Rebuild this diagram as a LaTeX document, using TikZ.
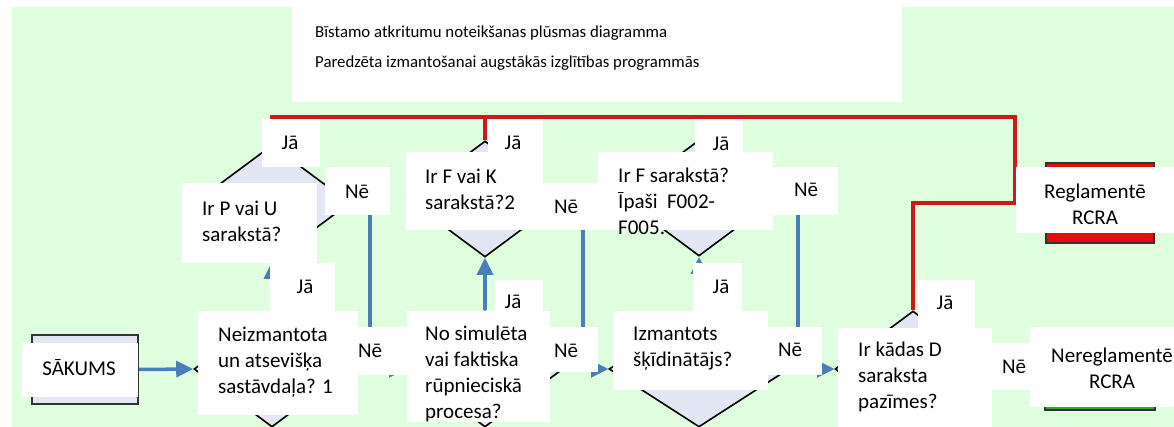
\documentclass[tikz,border=0pt]{standalone}
\usepackage{fontspec}
\setmainfont{Carlito}
\usetikzlibrary{arrows.meta,shapes.geometric,fit}
\definecolor{bgpale}{RGB}{223,254,221}
\definecolor{dfill}{RGB}{227,231,244}
\definecolor{flow}{RGB}{74,126,187}
\definecolor{yesred}{RGB}{205,25,25}
\definecolor{regred}{RGB}{232,12,12}
\definecolor{nongreen}{RGB}{40,175,40}
\begin{document}
\begin{tikzpicture}[x=1pt,y=-1pt,
  dia/.style={diamond, draw=black, line width=1.6pt, fill=dfill, inner sep=0pt, minimum width=156pt, minimum height=116pt},
  wbox/.style={fill=white, draw=none, inner sep=0pt},
  txt/.style={font=\fontsize{21}{25.8}\selectfont, align=left, inner sep=0pt},
  ctxt/.style={font=\fontsize{21}{25.8}\selectfont, align=center, inner sep=0pt},
  ttl/.style={font=\fontsize{16.8}{30}\selectfont, align=left, inner sep=0pt},
  flowline/.style={draw=flow, line width=3.5pt, -{Triangle[length=17pt,width=16pt]}},
  yesline/.style={draw=yesred, line width=3.5pt, line join=miter},
  endbox/.style={draw=black!80, line width=2pt, inner sep=0pt}
]
\useasboundingbox (0,0) rectangle (1174,427);
\fill[white] (0,0) rectangle (1174,427);
\node[fill=bgpale, inner sep=0pt, fit={(12,7) (1174,427)}] (panel) {};

% shapes
\node[endbox, fill=dfill, fit={(32,335) (138,404)}] (start) {};
\node[dia] (D1) at (272,203) {};
\node[dia] (D3) at (485,199) {};
\node[dia] (D6) at (699,198) {};
\node[dia] (D2) at (272,369) {};
\node[dia] (D4) at (485,369) {};
\node[dia, minimum width=180pt] (D5) at (699,369) {};
\node[dia] (D7) at (913,369) {};
\node[endbox, fill=regred, fit={(1046,163) (1154,243)}] (redbox) {};
\node[endbox, fill=nongreen, fit={(1045,340) (1155,410)}] (greenbox) {};

% blue connectors
\coordinate (k1) at (370,369);
\coordinate (k2) at (583,369);
\coordinate (k3) at (798,369);
\draw[flowline] (start.east) -- (D2.west);
\draw[flowline] (D2.north) -- (D1.south);
\draw[flowline] (D4.north) -- (D3.south);
\draw[flowline] (D5.north) -- (D6.south);
\draw[flowline] (D2.east) -- (D4.west);
\draw[flowline] (D1.east) -| (k1) -- (D4.west);
\draw[flowline] (D4.east) -- (D5.west);
\draw[flowline] (D3.east) -| (k2) -- (D5.west);
\draw[flowline] (D5.east) -- (D7.west);
\draw[flowline] (D6.east) -| (k3) -- (D7.west);
\draw[flowline] (D7.east) -- (greenbox.west);

% red connectors
\coordinate (busR) at (1015,117);
\coordinate (busT) at (1015,203);
\draw[yesline] (D1.north) |- (busR) -- (busT) -- (redbox.west);
\draw[yesline] (D3.north) -- (D3.north |- busR);
\draw[yesline] (D6.north) -- (D6.north |- busR);
\draw[yesline] (D7.north) |- (busT);

% white label boxes
\node[wbox, fit={(292,7) (902,102)}] (btitle) {};
\node[wbox, fit={(22,343) (138,397)}] (bstart) {};
\node[wbox, fit={(198,311) (358,415)}] (bq2) {};
\node[wbox, fit={(270,263) (335,311)}] (bja2) {};
\node[wbox, fit={(182,183) (317,263)}] (bq1) {};
\node[wbox, fit={(262,119) (320,167)}] (bja1) {};
\node[wbox, fit={(325,167) (390,215)}] (bne1) {};
\node[wbox, fit={(358,327) (407,375)}] (bne2) {};
\node[wbox, fit={(407,311) (550,422)}] (bq4) {};
\node[wbox, fit={(495,280) (543,311)}] (bja4) {};
\node[wbox, fit={(488,119) (543,167)}] (bja3) {};
\node[wbox, fit={(406,152) (543,230)}] (bq3) {};
\node[wbox, fit={(543,183) (598,230)}] (bne3) {};
\node[wbox, fit={(550,327) (598,372)}] (bne4) {};
\node[wbox, fit={(613,311) (768,390)}] (bq5) {};
\node[wbox, fit={(693,263) (742,311)}] (bja5) {};
\node[wbox, fit={(695,119) (743,167)}] (bja6) {};
\node[wbox, fit={(598,152) (773,230)}] (bq6) {};
\node[wbox, fit={(773,167) (838,215)}] (bne6) {};
\node[wbox, fit={(768,327) (822,375)}] (bne5) {};
\node[wbox, fit={(838,328) (992,427)}] (bq7) {};
\node[wbox, fit={(918,280) (975,328)}] (bja7) {};
\node[wbox, fit={(992,343) (1030,390)}] (bne7) {};
\node[wbox, fit={(1030,327) (1194,407)}] (bnon) {};
\node[wbox, fit={(1016,167) (1194,233)}] (breg) {};

% texts
\node[ttl, anchor=west] (ttitle) at (315,48) {Bīstamo atkritumu noteikšanas plūsmas diagramma\\Paredzēta izmantošanai augstākās izglītības programmās};
\node[ctxt] (tstart) at (79,368) {SĀKUMS};
\node[txt, anchor=west] (tq2) at (218,362) {Neizmantota\\un atsevišķa\\sastāvdaļa? 1};
\node[ctxt] (tja2) at (305,287) {Jā};
\node[txt, anchor=west] (tq1) at (202,221) {Ir P vai U\\sarakstā?};
\node[ctxt] (tja1) at (290,143) {Jā};
\node[ctxt] (tne1) at (357,192) {Nē};
\node[ctxt] (tne2) at (370,351) {Nē};
\node[txt, anchor=west] (tq4) at (425,374) {No simulēta\\vai faktiska\\rūpnieciskā\\procesa?};
\node[ctxt] (tja4) at (513,302) {Jā};
\node[ctxt] (tja3) at (513,143) {Jā};
\node[txt, anchor=west] (tq3) at (425,189) {Ir F vai K\\sarakstā?2};
\node[ctxt] (tne3) at (566,207) {Nē};
\node[ctxt] (tne4) at (566,351) {Nē};
\node[txt, anchor=west] (tq5) at (633,349) {Izmantots\\šķīdinātājs?};
\node[ctxt] (tja5) at (721,287) {Jā};
\node[ctxt] (tja6) at (721,144) {Jā};
\node[txt, anchor=west] (tq6) at (618,201) {Ir F sarakstā?\\Īpaši\ \ F002-\\F005.};
\node[ctxt] (tne6) at (806,190) {Nē};
\node[ctxt] (tne5) at (790,350) {Nē};
\node[txt, anchor=west] (tq7) at (858,377) {Ir kādas D\\saraksta\\pazīmes?};
\node[ctxt] (tja7) at (945,303) {Jā};
\node[ctxt] (tne7) at (1014,367) {Nē};
\node[ctxt] (tnon) at (1112,368) {Nereglamentē\\RCRA};
\node[ctxt] (treg) at (1095,204) {Reglamentē\\RCRA};
\end{tikzpicture}
\end{document}
